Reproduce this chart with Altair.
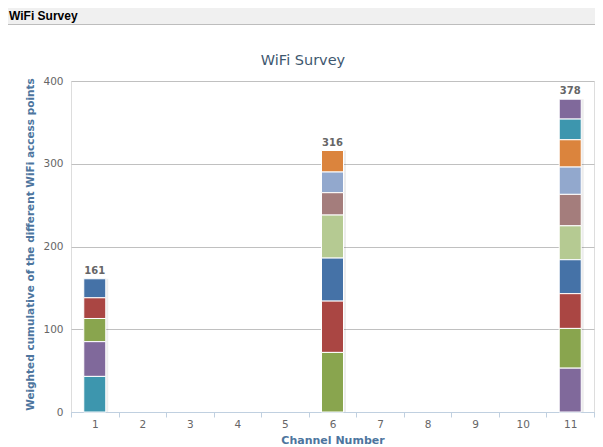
import altair as alt
import pandas as pd

# ---- data -------------------------------------------------------------
channels_all = ["1", "2", "3", "4", "5", "6", "7", "8", "9", "10", "11"]
# each series is one access point; series 0 is drawn on top of its stack
series_channel = ["1", "1", "1", "1", "1",
                  "6", "6", "6", "6", "6", "6", "6",
                  "11", "11", "11", "11", "11", "11", "11", "11", "11", "11"]
series_value = [23, 25, 28, 42, 43,
                26, 25, 27, 52, 52, 62, 72,
                24, 25, 33, 33, 38, 41, 41, 42, 48, 53]
y_ticks = [0, 100, 200, 300, 400]

palette = ["#4572A7", "#AA4643", "#89A54E", "#80699B", "#3D96AE",
           "#DB843D", "#92A8CD", "#A47D7C", "#B5CA92"]

df = pd.DataFrame({
    "channel": series_channel,
    "value": series_value,
    "series": [f"S{i:02d}" for i in range(len(series_value))],
    "sid": list(range(len(series_value))),
})
series_names = list(df["series"])
series_colors = [palette[i % len(palette)] for i in range(len(series_value))]

W, H = 523, 331
LEFT, TOP = 63, 73

x_enc = alt.X(
    "channel:O",
    scale=alt.Scale(domain=channels_all, paddingInner=0, paddingOuter=0),
    axis=alt.Axis(
        title="Channel Number", labelAngle=0, labelColor="#666666",
        labelFont="DejaVu Sans", labelFontSize=10.5, labelPadding=2,
        domainColor="#C0D0E0", tickColor="#C0D0E0", tickSize=5,
        tickBand="extent", grid=False,
        titleFont="DejaVu Sans", titleFontSize=11, titleFontWeight="bold",
        titleColor="#4D759E", titleY=28.5, titleBaseline="middle",
    ),
)

y_axis = alt.Axis(
    values=y_ticks, grid=True, gridColor="#C0C0C0", domain=False,
    ticks=False, tickSize=0, labelColor="#666666", labelFont="DejaVu Sans",
    labelFontSize=10.5, labelPadding=8,
    title="Weighted cumulative of the different WiFi access points",
    titleFont="DejaVu Sans", titleFontSize=10.5, titleFontWeight="bold",
    titleColor="#4D759E", titleX=-41, titleY=163, titleAngle=-90,
    titleAlign="center", titleBaseline="middle",
)

base = alt.Chart(df)

shadow = base.mark_bar(size=24, xOffset=1.5, color="#000000", opacity=0.07).encode(
    x=x_enc,
    y=alt.Y("sum(value):Q", scale=alt.Scale(domain=[0, 400]), axis=y_axis),
)

bars = base.mark_bar(size=22, stroke="white", strokeWidth=1).encode(
    x=x_enc,
    y=alt.Y("value:Q", stack="zero", scale=alt.Scale(domain=[0, 400]), axis=y_axis),
    color=alt.Color("series:N", scale=alt.Scale(domain=series_names, range=series_colors), legend=None),
    order=alt.Order("sid:Q", sort="descending"),
)

totals = base.mark_text(
    font="DejaVu Sans", fontSize=10, fontWeight="bold", color="#666666",
    baseline="alphabetic", dy=-5,
).encode(
    x=x_enc,
    y=alt.Y("sum(value):Q", scale=alt.Scale(domain=[0, 400])),
    text=alt.Text("sum(value):Q"),
)

header_bg = alt.Chart(alt.Data(values=[{"a": 1}])).mark_rect(
    color="#F0F0F0"
).encode(x=alt.value(-LEFT), x2=alt.value(W + 1), y=alt.value(-TOP), y2=alt.value(-57))

header_line = alt.Chart(alt.Data(values=[{"a": 1}])).mark_rule(
    color="#BDBDBD", strokeWidth=1
).encode(x=alt.value(-LEFT), x2=alt.value(W + 1), y=alt.value(-56.5))

header_text = alt.Chart(alt.Data(values=[{"t": "WiFi Survey"}])).mark_text(
    font="Liberation Sans", fontSize=12, fontWeight="bold", color="#000000",
    align="left", baseline="alphabetic",
).encode(x=alt.value(-62), y=alt.value(-61), text="t:N")

title_text = alt.Chart(alt.Data(values=[{"t": "WiFi Survey"}])).mark_text(
    font="DejaVu Sans", fontSize=14.5, color="#3E576F",
    align="center", baseline="alphabetic",
).encode(x=alt.value(232), y=alt.value(-16), text="t:N")

chart = alt.layer(
    header_bg, header_line, header_text, title_text, shadow, bars, totals
).properties(
    width=W, height=H,
    autosize=alt.AutoSizeParams(type="none"),
    padding={"left": LEFT, "top": TOP, "right": 1, "bottom": 34},
).configure_view(stroke=None).configure(background="white")

chart.save("out.html", embed_options={"renderer": "svg", "actions": False})
